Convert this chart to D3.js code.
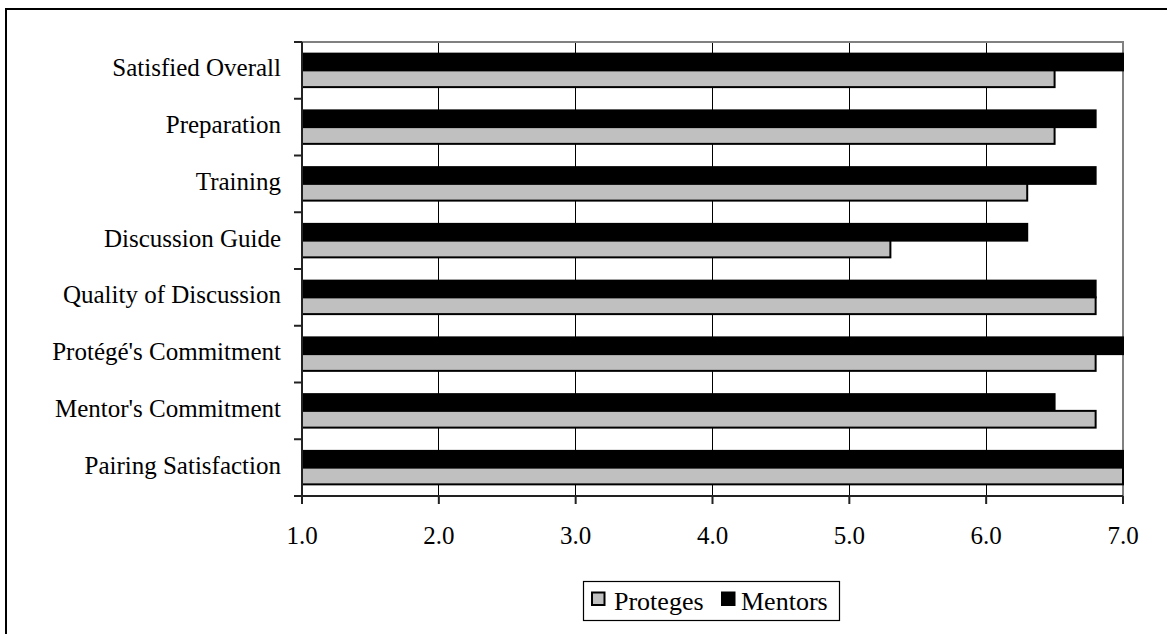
<!DOCTYPE html>
<html>
<head>
<meta charset="utf-8">
<script src="https://cdn.jsdelivr.net/npm/d3@7"></script>
<style>
  html, body { margin: 0; padding: 0; background: #fff; }
  svg { display: block; }
  text { font-family: "Liberation Serif", serif; fill: #000; }
</style>
</head>
<body>
<svg id="chart" width="1167" height="634"></svg>
<script>
// Data
const categories = [
  "Satisfied Overall",
  "Preparation",
  "Training",
  "Discussion Guide",
  "Quality of Discussion",
  "Protégé's Commitment",
  "Mentor's Commitment",
  "Pairing Satisfaction"
];
const mentors  = [7.0, 6.8, 6.8, 6.3, 6.8, 7.0, 6.5, 7.0];
const proteges = [6.5, 6.5, 6.3, 5.3, 6.8, 6.8, 6.8, 7.0];
const seriesNames = ["Mentors", "Proteges"];
const legendOrder = ["Proteges", "Mentors"];
const xTicks = [1, 2, 3, 4, 5, 6, 7];
const xDomain = [1, 7];

const colors = { Proteges: "#c0c0c0", Mentors: "#000000" };
const FONT = "'Liberation Serif', serif";

const svg = d3.select("#chart");
const W = 1167, H = 634;
const plot = { left: 302, right: 1123, top: 42, bottom: 496 };

// Outer frame
svg.append("rect")
  .attr("x", 6).attr("y", 9)
  .attr("width", W + 10).attr("height", H + 10)
  .attr("fill", "#fff").attr("stroke", "#000").attr("stroke-width", 2);

const x = d3.scaleLinear().domain(xDomain).range([plot.left, plot.right]);
const y = d3.scaleBand().domain(categories)
  .range([plot.top, plot.bottom]).paddingInner(0.41).paddingOuter(0.205);
const ySub = d3.scaleBand().domain(seriesNames).range([0, y.bandwidth()]);

// Gridlines
svg.append("g").selectAll("line")
  .data(xTicks.filter(t => t > xDomain[0] && t < xDomain[1]))
  .join("line")
  .attr("x1", d => x(d)).attr("x2", d => x(d))
  .attr("y1", plot.top).attr("y2", plot.bottom)
  .attr("stroke", "#000").attr("stroke-width", 1)
  .attr("shape-rendering", "crispEdges");

// Plot border (top/right gray)
svg.append("path")
  .attr("d", `M${plot.left},${plot.top}H${plot.right}V${plot.bottom}`)
  .attr("fill", "none").attr("stroke", "#808080").attr("stroke-width", 2);

// Bars
const rows = categories.map((c, i) => ({ cat: c, Mentors: mentors[i], Proteges: proteges[i] }));
const groups = svg.append("g").selectAll("g")
  .data(rows).join("g")
  .attr("transform", d => `translate(0,${y(d.cat)})`);

groups.selectAll("rect")
  .data(d => seriesNames.map(s => ({ s, v: d[s] })))
  .join("rect")
  .attr("x", x(xDomain[0]))
  .attr("y", d => ySub(d.s))
  .attr("width", d => x(d.v) - x(xDomain[0]))
  .attr("height", ySub.bandwidth())
  .attr("fill", d => colors[d.s])
  .attr("stroke", "#000").attr("stroke-width", 2);

// Left axis (category)
const yBoundaries = categories.map((c, i) => plot.top + i * y.step()).concat([plot.bottom]);
const yAxisG = svg.append("g");
yAxisG.append("line")
  .attr("x1", plot.left).attr("x2", plot.left)
  .attr("y1", plot.top).attr("y2", plot.bottom)
  .attr("stroke", "#222").attr("stroke-width", 2);
yAxisG.selectAll("line.tick")
  .data(yBoundaries).join("line").attr("class", "tick")
  .attr("x1", plot.left - 8).attr("x2", plot.left)
  .attr("y1", d => d).attr("y2", d => d)
  .attr("stroke", "#222").attr("stroke-width", 2);
yAxisG.selectAll("text")
  .data(categories).join("text")
  .attr("x", 281)
  .attr("y", d => y(d) - y.step() * y.paddingInner() / 2 + y.step() / 2 + 6)
  .attr("text-anchor", "end")
  .attr("font-family", FONT)
  .attr("font-size", 25)
  .text(d => d);

// Bottom axis
const xAxisG = svg.append("g");
xAxisG.append("line")
  .attr("x1", plot.left).attr("x2", plot.right)
  .attr("y1", plot.bottom).attr("y2", plot.bottom)
  .attr("stroke", "#222").attr("stroke-width", 2);
xAxisG.selectAll("line.tick")
  .data(xTicks).join("line").attr("class", "tick")
  .attr("x1", d => x(d)).attr("x2", d => x(d))
  .attr("y1", plot.bottom).attr("y2", plot.bottom + 8)
  .attr("stroke", "#222").attr("stroke-width", 2);
xAxisG.selectAll("text")
  .data(xTicks).join("text")
  .attr("x", d => x(d))
  .attr("y", 544)
  .attr("text-anchor", "middle")
  .attr("font-family", FONT)
  .attr("font-size", 25)
  .text(d => d3.format(".1f")(d));

// Legend
const legend = svg.append("g");
legend.append("rect")
  .attr("x", 583.5).attr("y", 581.5).attr("width", 256).attr("height", 39)
  .attr("fill", "#fff").attr("stroke", "#000").attr("stroke-width", 1.2);
const legendPos = { Proteges: { sx: 592, tx: 614 }, Mentors: { sx: 722, tx: 741 } };
legendOrder.forEach(s => {
  legend.append("rect")
    .attr("x", legendPos[s].sx).attr("y", 592.5)
    .attr("width", 12.5).attr("height", 12.5)
    .attr("fill", colors[s]).attr("stroke", "#000").attr("stroke-width", 2);
  legend.append("text")
    .attr("x", legendPos[s].tx).attr("y", 610)
    .attr("font-family", FONT)
    .attr("font-size", 26)
    .text(s);
});
</script>
</body>
</html>
